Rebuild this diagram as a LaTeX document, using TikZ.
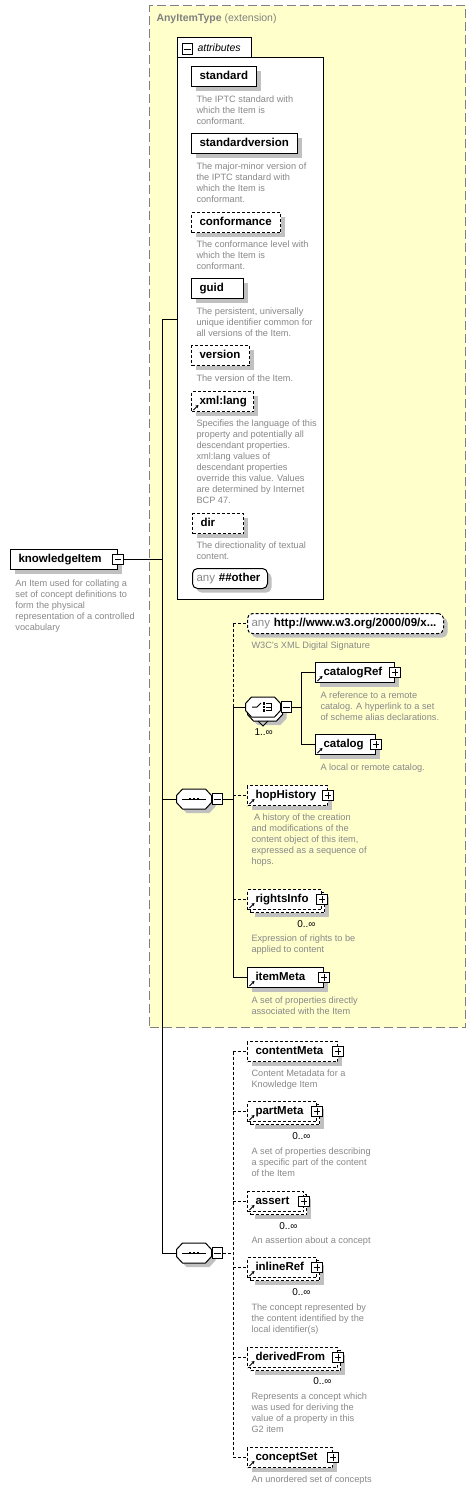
\documentclass[tikz,border=0pt]{standalone}
\usepackage{fontspec}
\setmainfont{Liberation Sans}
\usepackage{tikz}
\usetikzlibrary{shadows,arrows.meta,calc}
\definecolor{extyellow}{RGB}{255,255,204}
\definecolor{extborder}{RGB}{128,128,128}
\definecolor{descgray}{RGB}{136,136,136}
\definecolor{shadowgray}{RGB}{192,192,192}
\newcommand{\labelfont}{\fontsize{11.5}{13}\selectfont\bfseries}
\newcommand{\descfont}{\fontsize{9.2}{11}\selectfont}

\begin{document}
\begin{tikzpicture}[x=1pt, y=-1pt, line width=1pt,
    shadowed/.style={drop shadow={shadow xshift=4pt, shadow yshift=-4pt, fill=shadowgray, opacity=1}},
    optional/.style={dash pattern=on 3pt off 2pt},
    elbox/.style={draw, fill=white, font=\labelfont, align=left, inner xsep=8pt, inner ysep=0pt,
        text height=8pt, text depth=2.5pt, minimum height=20pt, anchor=north west},
    elem/.style={elbox, shadowed},
    multielem/.style={elbox, optional,
        drop shadow={shadow xshift=7pt, shadow yshift=-7pt, fill=shadowgray, opacity=1},
        copy shadow={shadow xshift=3pt, shadow yshift=-3pt, draw=black, fill=white, line width=1pt, dash pattern=on 3pt off 2pt}},
    anybox/.style={elbox, rounded corners=5pt, inner xsep=4pt, shadowed},
    refarrow/.style={path picture={\draw[line width=1pt, solid, -{Stealth[length=3pt, width=3.5pt]}]
        ([shift={(2pt,1.5pt)}]path picture bounding box.south west) -- ++(5pt,5pt);}},
    toggle/.style={draw, solid, fill=white, minimum size=10.5pt, inner sep=0pt},
    minus/.style={toggle, path picture={
        \draw[line width=1pt] ([xshift=2pt]path picture bounding box.west) -- ([xshift=-2pt]path picture bounding box.east);}},
    plus/.style={toggle, path picture={
        \draw[line width=1pt] ([xshift=2pt]path picture bounding box.west) -- ([xshift=-2pt]path picture bounding box.east);
        \draw[line width=1pt] ([yshift=-2pt]path picture bounding box.north) -- ([yshift=2pt]path picture bounding box.south);}},
    compbase/.style={minimum width=34pt, minimum height=19pt, inner sep=0pt},
    octpath/.style n args={3}{insert path={
        ($(#1.west)+(#2,#3-3.5)$) -- ($(#1.north west)+(#2+6,#3)$) -- ($(#1.north east)+(#2-6,#3)$)
        -- ($(#1.east)+(#2,#3-3.5)$) -- ($(#1.east)+(#2,#3+3.5)$) -- ($(#1.south east)+(#2-6,#3)$)
        -- ($(#1.south west)+(#2+6,#3)$) -- ($(#1.west)+(#2,#3+3.5)$) -- cycle}},
    desc/.style={font=\descfont, text=descgray, align=left, inner sep=0pt, anchor=north west},
    mult/.style={font=\fontsize{10}{12}\selectfont, inner sep=0pt, anchor=north east}]

    \useasboundingbox (0,0) rectangle (476,1489);

    % Extension frame
    \node[draw=extborder, fill=extyellow, dash pattern=on 9pt off 4pt, minimum width=316pt, minimum height=1022pt,
        inner sep=0pt, anchor=north west] (ext) at (149,5) {};
    \node[anchor=west, inner sep=0pt, text=extborder, font=\fontsize{10.5}{12}\selectfont] (exttitle) at (156,19)
        {\bfseries AnyItemType \mdseries(extension)};

    % Attributes
    \node[draw, fill=white, minimum width=146pt, minimum height=542pt, inner sep=0pt, anchor=north west] (attrs) at (177,57) {};
    \node[fill=white, minimum width=73pt, minimum height=19pt, inner sep=0pt, anchor=south west] (attrtab) at (177,57.6) {};
    \draw (attrtab.south west) -- (attrtab.north west) -- (attrtab.north east) -- (attrtab.south east);
    \node[minus] (attrtab-minus) at (187.5,49) {};
    \node[anchor=west, inner sep=0pt, font=\fontsize{10.5}{12}\selectfont\itshape] (attrlabel) at (197,48) {attributes};

    \node[elem, text width=49pt] (standard) at (191,66) {standard};
    \node[desc] (standard-desc) at (196,95) {The IPTC standard with\\which the Item is\\conformant.};
    \node[elem, text width=90pt] (stdversion) at (191,133) {standardversion};
    \node[desc] (stdversion-desc) at (196,162) {The major-minor version of\\the IPTC standard with\\which the Item is\\conformant.};
    \node[elem, optional, text width=73pt] (conformance) at (191,212) {conformance};
    \node[desc] (conformance-desc) at (196,240) {The conformance level with\\which the Item is\\conformant.};
    \node[elem, text width=36pt] (guid) at (191,278) {guid};
    \node[desc] (guid-desc) at (196,307) {The persistent, universally\\unique identifier common for\\all versions of the Item.};
    \node[elem, optional, text width=42pt] (version) at (191,345) {version};
    \node[desc] (version-desc) at (196,374) {The version of the Item.};
    \node[elem, optional, refarrow, text width=46pt] (xmllang) at (191,391) {xml:lang};
    \node[desc] (xmllang-desc) at (196,419) {Specifies the language of this\\property and potentially all\\descendant properties.\\xml:lang values of\\descendant properties\\override this value. Values\\are determined by Internet\\BCP 47.};
    \node[elem, optional, text width=35pt] (dir) at (192,513) {dir};
    \node[desc] (dir-desc) at (196,541) {The directionality of textual\\content.};
    \node[anybox, text width=67pt] (anyother) at (192,568) {{\mdseries\color{descgray}any}~\#\#other};

    % Root element
    \node[elem, text width=91pt] (ki) at (10,549) {knowledgeItem};
    \node[minus] (ki-minus) at (ki.east) {};
    \node[desc] (ki-desc) at (15,579) {An Item used for collating a\\set of concept definitions to\\form the physical\\representation of a controlled\\vocabulary};

    % Sequence compositors
    \node[compbase] (seq1) at (194,799) {};
    \node[compbase] (seq2) at (194,1253) {};
    \foreach \s in {seq1,seq2} {
        \fill[shadowgray, octpath={\s}{4}{4}];
        \draw[fill=white, octpath={\s}{0}{0}];
        \draw ($(\s.center)+(-12,0)$) -- ($(\s.center)+(12,0)$);
        \foreach \dx in {-4,0,4}
            \fill ($(\s.center)+(\dx,0)$) +(-1.3,-1.4) rectangle +(1.3,1.4);
        \node[minus, anchor=west] (\s-minus) at (\s.east) {};
    }

    % First sequence
    \node[anybox, optional, text width=188pt] (anyhttp) at (247,613) {{\mdseries\color{descgray}any}~http://www.w3.org/2000/09/x...};
    \node[desc] (anyhttp-desc) at (251,641) {W3C's XML Digital Signature};

    \node[compbase] (choice) at (263,707) {};
    \fill[shadowgray, octpath={choice}{6}{8}];
    \draw[fill=white, octpath={choice}{2}{4}];
    \draw ($(choice.south)+(-5,4)$) -- ($(choice.south)+(0,9)$) -- ($(choice.south)+(5,4)$);
    \draw[fill=white, octpath={choice}{0}{0}];
    \draw ($(choice.center)+(-11,0)$) -- ++(5,0) -- ++(4,-4);
    \foreach \dy in {-3.5,0,3.5}
        \fill ($(choice.center)+(1,\dy)$) +(-1.2,-1.2) rectangle +(1.2,1.2);
    \draw ($(choice.center)+(3,-3.5)$) -- ++(5,0) -- ++(0,7) -- ++(-5,0);
    \draw ($(choice.center)+(3,0)$) -- ++(5,0);
    \node[minus, anchor=west] (choice-minus) at (choice.east) {};
    \node[mult, anchor=north west] (choice-mult) at (254,728) {1..∞};

    \node[elem, refarrow, text width=63pt] (catalogRef) at (315,662) {catalogRef};
    \node[desc] (catalogRef-desc) at (320,691) {A reference to a remote\\catalog. A hyperlink to a set\\of scheme alias declarations.};
    \node[elem, refarrow, text width=44pt] (catalog) at (315,734) {catalog};
    \node[desc] (catalog-desc) at (320,763) {A local or remote catalog.};
    \node[elem, optional, refarrow, text width=64pt] (hopHistory) at (247,785) {hopHistory};
    \node[desc] (hopHistory-desc) at (251,813) {\hspace*{2.5pt}A history of the creation\\and modifications of the\\content object of this item,\\expressed as a sequence of\\hops.};
    \node[multielem, refarrow, text width=58pt] (rightsInfo) at (247,889) {rightsInfo};
    \node[mult] (rightsInfo-mult) at ($(rightsInfo.south east)+(-6,10)$) {0..∞};
    \node[desc] (rightsInfo-desc) at (251,934) {Expression of rights to be\\applied to content};
    \node[elem, refarrow, text width=60pt] (itemMeta) at (247,967) {itemMeta};
    \node[desc] (itemMeta-desc) at (251,996) {A set of properties directly\\associated with the Item};

    % Second sequence
    \node[elem, optional, text width=74pt] (contentMeta) at (247,1041) {contentMeta};
    \node[desc] (contentMeta-desc) at (251,1069) {Content Metadata for a\\Knowledge Item};
    \node[multielem, refarrow, text width=53pt] (partMeta) at (247,1101) {partMeta};
    \node[mult] (partMeta-mult) at ($(partMeta.south east)+(-6,10)$) {0..∞};
    \node[desc] (partMeta-desc) at (251,1147) {A set of properties describing\\a specific part of the content\\of the Item};
    \node[multielem, refarrow, text width=40pt] (assert) at (247,1191) {assert};
    \node[mult] (assert-mult) at ($(assert.south east)+(-6,10)$) {0..∞};
    \node[desc] (assert-desc) at (251,1236) {An assertion about a concept};
    \node[multielem, refarrow, text width=53pt] (inlineRef) at (247,1257) {inlineRef};
    \node[mult] (inlineRef-mult) at ($(inlineRef.south east)+(-6,10)$) {0..∞};
    \node[desc] (inlineRef-desc) at (251,1303) {The concept represented by\\the content identified by the\\local identifier(s)};
    \node[multielem, refarrow, text width=74pt] (derivedFrom) at (247,1347) {derivedFrom};
    \node[mult] (derivedFrom-mult) at ($(derivedFrom.south east)+(-6,9)$) {0..∞};
    \node[desc] (derivedFrom-desc) at (251,1392) {Represents a concept which\\was used for deriving the\\value of a property in this\\G2 item};
    \node[elem, optional, refarrow, text width=69pt] (conceptSet) at (247,1447) {conceptSet};
    \node[desc] (conceptSet-desc) at (251,1475) {An unordered set of concepts};

    % Expand buttons
    \foreach \e in {catalogRef,catalog,hopHistory,rightsInfo,itemMeta,contentMeta,partMeta,assert,inlineRef,derivedFrom,conceptSet}
        \node[plus] (\e-plus) at (\e.east) {};

    % Connectors
    \coordinate (trunk) at (162,319);
    \draw (trunk) -- (trunk -| attrs.west);
    \draw (ki-minus.east) -- (ki-minus.east -| trunk);
    \draw (trunk) -- (trunk |- seq2.west);
    \draw (trunk |- seq1.west) -- (seq1.west);
    \draw (trunk |- seq2.west) -- (seq2.west);

    \coordinate (bus1) at ($(seq1-minus.east)+(10,0)$);
    \draw (seq1-minus.east) -- (bus1);
    \draw[optional] (bus1 |- anyhttp.west) -- (bus1 |- choice.west);
    \draw (bus1 |- choice.west) -- (bus1 |- itemMeta.west);
    \draw[optional] (bus1 |- anyhttp.west) -- (anyhttp.west);
    \draw (bus1 |- choice.west) -- (choice.west);
    \draw[optional] (bus1 |- hopHistory.west) -- (hopHistory.west);
    \draw[optional] (bus1 |- rightsInfo.west) -- (rightsInfo.west);
    \draw (bus1 |- itemMeta.west) -- (itemMeta.west);

    \coordinate (bus3) at ($(choice-minus.east)+(9,0)$);
    \draw (choice-minus.east) -- (bus3);
    \draw (bus3 |- catalogRef.west) -- (bus3 |- catalog.west);
    \draw (bus3 |- catalogRef.west) -- (catalogRef.west);
    \draw (bus3 |- catalog.west) -- (catalog.west);

    \coordinate (bus2) at ($(seq2-minus.east)+(10,0)$);
    \draw[optional] (seq2-minus.east) -- (bus2);
    \draw[optional] (bus2 |- contentMeta.west) -- (bus2 |- conceptSet.west);
    \foreach \e in {contentMeta,partMeta,assert,inlineRef,derivedFrom,conceptSet}
        \draw[optional] (bus2 |- \e.west) -- (\e.west);
\end{tikzpicture}
\end{document}
